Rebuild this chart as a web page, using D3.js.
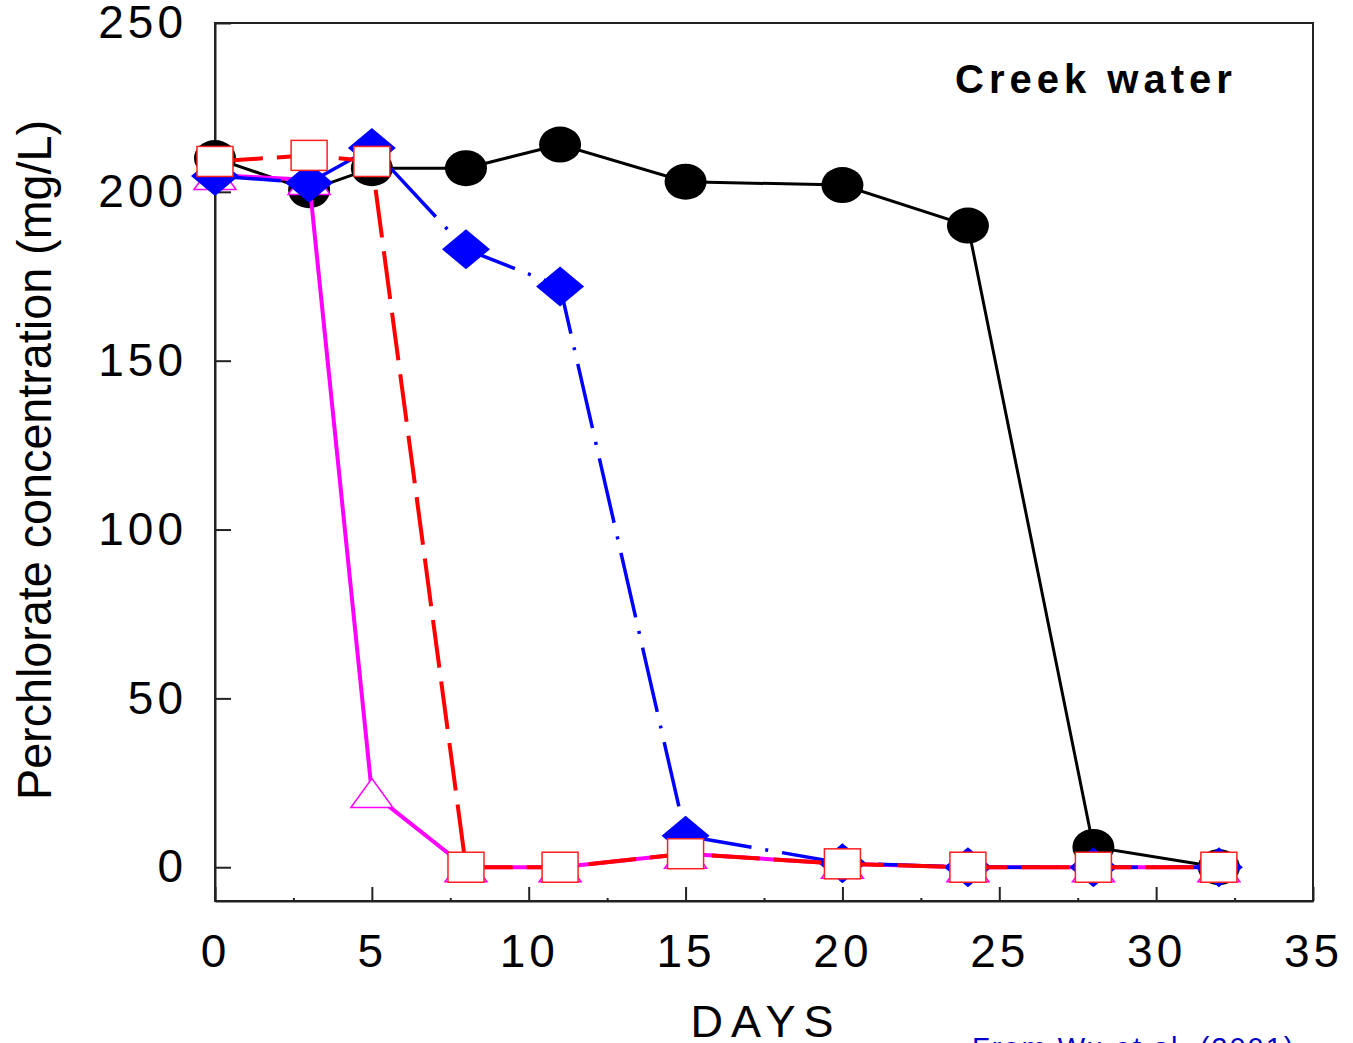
<!DOCTYPE html>
<html>
<head>
<meta charset="utf-8">
<title>Creek water perchlorate</title>
<script src="https://cdnjs.cloudflare.com/ajax/libs/d3/7.8.5/d3.min.js"></script>
<style>
body { margin: 0; background: #fff; }
text { font-family: "Liberation Sans", Arial, sans-serif; }
.tick text { font-size: 46px; letter-spacing: 4px; fill: #000; }
.axis path, .axis line { stroke: #222; stroke-width: 2px; }
</style>
</head>
<body>
<div id="chart"></div>
<script>
// values
var days = [0, 3, 5, 8, 11, 15, 20, 24, 28, 32];
var circleVals = [210, 200.5, 207, 207, 214, 203, 202, 190, 6, 0];
var triangleVals = [205, 203.5, 22, 0, 0, 4, 1, 0, 0, 0];
var diamondVals = [204.7, 202.7, 213, 183, 172, 9.3, 1.2, 0, 0, 0];
var squareVals = [209, 210.8, 209, 0, 0, 4, 1, 0, 0, 0];
var xTicks = [0, 5, 10, 15, 20, 25, 30, 35];
var xMinor = [2.5, 7.5, 12.5, 17.5, 22.5, 27.5, 32.5];
var yTicks = [0, 50, 100, 150, 200, 250];

var W = 1353, H = 1043;
var svg = d3.select("#chart").append("svg")
  .attr("width", W).attr("height", H);

var x = d3.scaleLinear().domain([0, 35]).range([215, 1313]);
var y = d3.scaleLinear().domain([-10, 250]).range([901, 23]);

// frame
svg.append("rect")
  .attr("x", x(0)).attr("y", y(250))
  .attr("width", x(35) - x(0)).attr("height", y(-10) - y(250))
  .attr("fill", "none").attr("stroke", "#222").attr("stroke-width", 2);

// x axis (ticks point inward)
svg.append("g").attr("class", "axis")
  .attr("transform", "translate(0," + y(-10) + ")")
  .call(d3.axisBottom(x).tickValues(xTicks).tickSizeInner(-14).tickSizeOuter(0).tickPadding(33));
svg.append("g").attr("class", "axis")
  .attr("transform", "translate(0," + y(-10) + ")")
  .call(d3.axisBottom(x).tickValues(xMinor).tickSizeInner(-3).tickSizeOuter(0).tickFormat(""))
  .select(".domain").remove();

// y axis
svg.append("g").attr("class", "axis")
  .attr("transform", "translate(" + x(0) + ",0)")
  .call(d3.axisLeft(y).tickValues(yTicks).tickSizeInner(-16).tickSizeOuter(0).tickPadding(28));

// axis titles
svg.append("text")
  .attr("transform", "translate(51," + 460 + ") rotate(-90)")
  .attr("text-anchor", "middle")
  .attr("font-size", 48)
  .attr("textLength", 680).attr("lengthAdjust", "spacingAndGlyphs")
  .text("Perchlorate concentration (mg/L)");

svg.append("text")
  .attr("x", 766).attr("y", 1037)
  .attr("text-anchor", "middle")
  .attr("font-size", 45).attr("letter-spacing", "8px")
  .text("DAYS");

svg.append("text")
  .attr("x", 955).attr("y", 93)
  .attr("font-size", 40).attr("font-weight", "bold").attr("letter-spacing", "5px")
  .text("Creek water");

svg.append("text")
  .attr("x", 972).attr("y", 1058)
  .attr("font-size", 29).attr("letter-spacing", "2px")
  .attr("fill", "#0000cc")
  .text("From Wu et al. (2001)");

function pts(vals) { return days.map(function (d, i) { return [d, vals[i]]; }); }
var line = d3.line().x(function (d) { return x(d[0]); }).y(function (d) { return y(d[1]); });

// black circles, solid
svg.append("path").datum(pts(circleVals))
  .attr("d", line).attr("fill", "none").attr("stroke", "#000").attr("stroke-width", 3);
svg.selectAll(".circ").data(pts(circleVals)).enter().append("ellipse")
  .attr("cx", function (d) { return x(d[0]); }).attr("cy", function (d) { return y(d[1]); })
  .attr("rx", 21).attr("ry", 18).attr("fill", "#000");

// magenta triangles, solid
svg.append("path").datum(pts(triangleVals))
  .attr("d", line).attr("fill", "none").attr("stroke", "#ff00ff").attr("stroke-width", 4);
svg.selectAll(".tri").data(pts(triangleVals)).enter().append("path")
  .attr("transform", function (d) { return "translate(" + x(d[0]) + "," + y(d[1]) + ")"; })
  .attr("d", "M0,-14.5L21,14.5L-21,14.5Z")
  .attr("fill", "#fff").attr("stroke", "#ff00ff").attr("stroke-width", 1.5);

// blue diamonds, dash-dot
svg.append("path").datum(pts(diamondVals))
  .attr("d", line).attr("fill", "none").attr("stroke", "#0000ff").attr("stroke-width", 3.5)
  .attr("stroke-dasharray", "66,14,3,14");
svg.selectAll(".dia").data(pts(diamondVals)).enter().append("path")
  .attr("transform", function (d) { return "translate(" + x(d[0]) + "," + y(d[1]) + ")"; })
  .attr("d", "M0,-20L24,0L0,20L-24,0Z")
  .attr("fill", "#0000ff");

// red squares, long dash
svg.append("path").datum(pts(squareVals))
  .attr("d", line).attr("fill", "none").attr("stroke", "#ff0000").attr("stroke-width", 4)
  .attr("stroke-dasharray", "48,14");
svg.selectAll(".sq").data(pts(squareVals)).enter().append("rect")
  .attr("x", function (d) { return x(d[0]) - 18; }).attr("y", function (d) { return y(d[1]) - 15; })
  .attr("width", 36).attr("height", 30)
  .attr("fill", "#fff").attr("stroke", "#ff2020").attr("stroke-width", 1.5);
</script>
</body>
</html>
